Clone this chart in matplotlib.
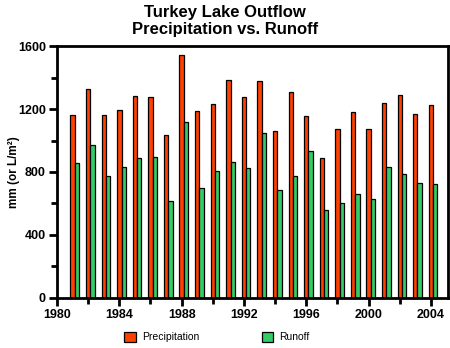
import numpy as np
import matplotlib
matplotlib.use("Agg")
import matplotlib.pyplot as plt
from matplotlib.ticker import MultipleLocator

plt.rcParams["font.family"] = ["Liberation Sans", "DejaVu Sans"]

years = list(range(1981, 2005))
precipitation = [1164, 1329, 1164, 1196, 1285, 1278, 1037, 1545, 1189, 1234, 1386, 1278,
                 1380, 1062, 1310, 1158, 891, 1075, 1183, 1075, 1240, 1291, 1170, 1228]
runoff = [859, 974, 777, 834, 891, 897, 618, 1120, 700, 808, 866, 828,
          1050, 688, 777, 935, 561, 605, 662, 631, 834, 789, 732, 726]

ORANGE = "#ff4000"
GREEN = "#33cc66"

fig = plt.figure(figsize=(4.5, 3.48), dpi=100)
ax = fig.add_axes([0.1267, 0.1437, 0.8689, 0.7241])

x = np.array(years)
width = 0.28
ax.bar(x, precipitation, width, color=ORANGE, edgecolor="black", linewidth=0.9,
       label="Precipitation")
ax.bar(x + width, runoff, width, color=GREEN, edgecolor="black", linewidth=0.9,
       label="Runoff")

ax.set_xlim(1980, 2005.1)
ax.set_ylim(0, 1600)
ax.xaxis.set_major_locator(MultipleLocator(4))
ax.xaxis.set_minor_locator(MultipleLocator(2))
ax.yaxis.set_major_locator(MultipleLocator(400))
ax.yaxis.set_minor_locator(MultipleLocator(200))
ax.tick_params(which="major", length=6, width=2, labelsize=9, pad=2)
ax.tick_params(which="minor", length=4, width=2)
for lab in ax.get_xticklabels() + ax.get_yticklabels():
    lab.set_fontweight("bold")
for sp in ax.spines.values():
    sp.set_linewidth(2)

ax.set_ylabel("mm (or L/m²)", fontsize=8.5, fontweight="bold")
ax.yaxis.set_label_coords(-0.095, 0.5)
fig.suptitle("Turkey Lake Outflow\nPrecipitation vs. Runoff", fontsize=12,
             fontweight="bold", y=0.985, linespacing=1.15)

fig.legend(loc="center", bbox_to_anchor=(0.482, 0.032), ncol=2, frameon=False,
           fontsize=7.5, handlelength=1.1, handleheight=1.1, columnspacing=6.0,
           handletextpad=0.6, borderpad=0)

fig.savefig("out.png", dpi=100)
